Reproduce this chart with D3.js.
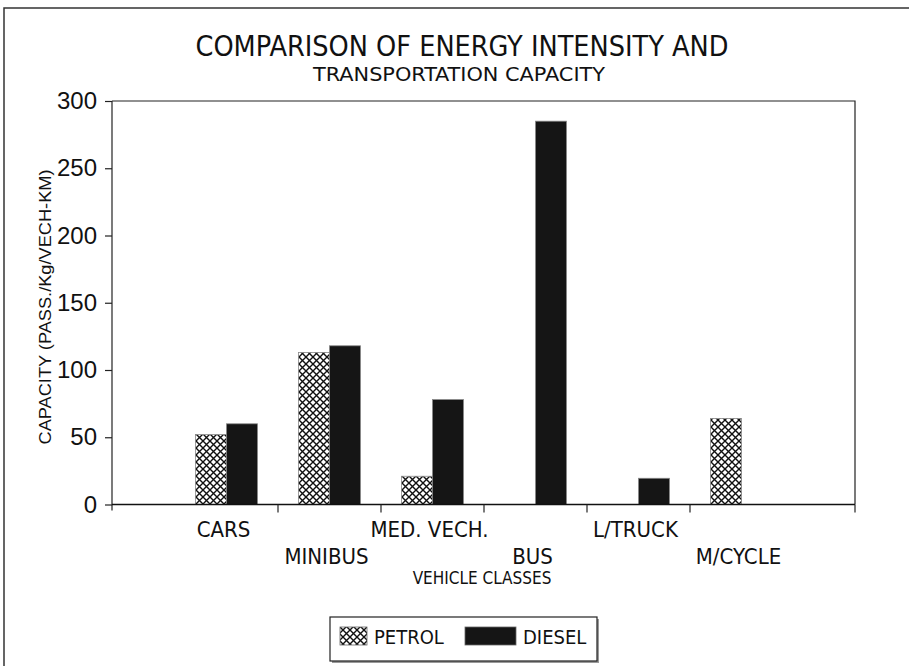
<!DOCTYPE html>
<html>
<head>
<meta charset="utf-8">
<script src="https://cdn.jsdelivr.net/npm/d3@7"></script>
<style>
  body { margin: 0; background: #fff; }
  text { fill: #111; }
</style>
</head>
<body>
<div class="graph"></div>
<script>
var categories = ["CARS", "MINIBUS", "MED. VECH.", "BUS", "L/TRUCK", "M/CYCLE"];
var series = ["PETROL", "DIESEL"];
var petrol = [52, 113, 21, 0, 0, 64];
var diesel = [60, 118, 78, 285, 19.5, 0];
var yTicks = [0, 50, 100, 150, 200, 250, 300];

var width = 909;
var height = 666;
var plotLeft = 112, plotRight = 855, plotTop = 101, plotBottom = 504.5;
var font = "'Liberation Sans Narrow', 'DejaVu Sans Condensed', sans-serif";

var svg = d3.select(".graph").append("svg")
  .attr("width", width)
  .attr("height", height);

// crosshatch for petrol
var pat = svg.append("defs").append("pattern")
  .attr("id", "hatch")
  .attr("patternUnits", "userSpaceOnUse")
  .attr("width", 7)
  .attr("height", 7);
pat.append("rect").attr("width", 7).attr("height", 7).attr("fill", "#fff");
pat.append("path")
  .attr("d", "M0,0L7,7M7,0L0,7")
  .attr("stroke", "#111")
  .attr("stroke-width", 1.4);

var fills = {"PETROL": "url(#hatch)", "DIESEL": "#151515"};

// outer frame
svg.append("path")
  .attr("d", "M4,666V8H909")
  .attr("fill", "none")
  .attr("stroke", "#333")
  .attr("stroke-width", 1.5);

var x0 = d3.scaleBand()
  .domain(categories)
  .range([175, 793]);

var x1 = d3.scaleBand()
  .domain(series)
  .range([x0.bandwidth() / 2 - 31, x0.bandwidth() / 2 + 31]);

var y = d3.scaleLinear()
  .domain([0, 300])
  .range([plotBottom, plotTop]);

var rows = categories.map(function (c, i) {
  return {cat: c, vals: [{s: "PETROL", v: petrol[i]}, {s: "DIESEL", v: diesel[i]}]};
});

// bars
var groups = svg.append("g").selectAll("g")
  .data(rows)
  .join("g")
  .attr("transform", d => "translate(" + x0(d.cat) + ",0)");

groups.selectAll("rect")
  .data(d => d.vals)
  .join("rect")
  .attr("x", d => x1(d.s))
  .attr("y", d => y(d.v))
  .attr("width", x1.bandwidth())
  .attr("height", d => y(0) - y(d.v))
  .attr("fill", d => fills[d.s])
  .attr("stroke", "#888")
  .attr("stroke-width", 0.8);

// plot box top/right
svg.append("path")
  .attr("d", "M" + plotLeft + "," + plotTop + "H" + plotRight + "V" + plotBottom)
  .attr("fill", "none")
  .attr("stroke", "#222")
  .attr("stroke-width", 1.2);

// y axis
var yAxisGroup = svg.append("g")
  .attr("transform", "translate(" + plotLeft + ",0)");
var yAxis = d3.axisLeft(y).tickValues(yTicks).tickSize(7).tickPadding(8);
yAxis(yAxisGroup);
yAxisGroup.select(".domain").remove();
yAxisGroup.selectAll("line").attr("stroke", "#222").attr("stroke-width", 1.2);
yAxisGroup.selectAll("text")
  .style("font-family", "'Liberation Sans', Arial, sans-serif")
  .style("font-size", "24px")
  .attr("fill", "#111");
svg.append("line")
  .attr("x1", plotLeft).attr("x2", plotLeft)
  .attr("y1", plotTop).attr("y2", plotBottom + 6)
  .attr("stroke", "#222").attr("stroke-width", 1.2);

// x axis
svg.append("line")
  .attr("x1", plotLeft).attr("x2", plotRight)
  .attr("y1", plotBottom).attr("y2", plotBottom)
  .attr("stroke", "#111").attr("stroke-width", 1.6);

var tickPos = categories.slice(1).map(c => x0(c)).concat([plotRight]);
svg.append("g").selectAll("line")
  .data(tickPos)
  .join("line")
  .attr("x1", d => d).attr("x2", d => d)
  .attr("y1", plotBottom).attr("y2", plotBottom + 8)
  .attr("stroke", "#222").attr("stroke-width", 1.2);

svg.append("g").selectAll("text")
  .data(categories)
  .join("text")
  .attr("x", d => x0(d) + x0.bandwidth() / 2 - 3)
  .attr("y", (d, i) => i % 2 === 0 ? 537 : 564)
  .attr("text-anchor", "middle")
  .style("font-family", font)
  .style("font-size", "22px")
  .text(d => d);

svg.append("text")
  .attr("x", 482).attr("y", 584)
  .attr("text-anchor", "middle")
  .style("font-family", font)
  .style("font-size", "17px")
  .text("VEHICLE CLASSES");

// y title
svg.append("text")
  .attr("transform", "translate(51,307) rotate(-90)")
  .attr("text-anchor", "middle")
  .attr("textLength", 275)
  .attr("lengthAdjust", "spacingAndGlyphs")
  .style("font-family", "'Liberation Sans', Arial, sans-serif")
  .style("font-size", "16px")
  .text("CAPACITY (PASS./Kg/VECH-KM)");

// titles
svg.append("text")
  .attr("x", 462).attr("y", 56)
  .attr("text-anchor", "middle")
  .attr("textLength", 533)
  .attr("lengthAdjust", "spacingAndGlyphs")
  .style("font-family", font)
  .style("font-size", "28px")
  .text("COMPARISON OF ENERGY INTENSITY AND");

svg.append("text")
  .attr("x", 459).attr("y", 81)
  .attr("text-anchor", "middle")
  .attr("textLength", 292)
  .attr("lengthAdjust", "spacingAndGlyphs")
  .style("font-family", font)
  .style("font-size", "19px")
  .text("TRANSPORTATION CAPACITY");

// legend
var legend = svg.append("g");
legend.append("rect")
  .attr("x", 332).attr("y", 619).attr("width", 267).attr("height", 44)
  .attr("fill", "#999");
legend.append("rect")
  .attr("x", 330).attr("y", 617).attr("width", 267).attr("height", 44)
  .attr("fill", "#fff").attr("stroke", "#222").attr("stroke-width", 1.2);

var legendX = {"PETROL": 340, "DIESEL": 465};
var legendW = {"PETROL": 27, "DIESEL": 51};
series.forEach(function (s) {
  legend.append("rect")
    .attr("x", legendX[s]).attr("y", 627)
    .attr("width", legendW[s]).attr("height", 18)
    .attr("fill", fills[s])
    .attr("stroke", "#666").attr("stroke-width", 0.8);
  legend.append("text")
    .attr("x", legendX[s] + legendW[s] + 7).attr("y", 644)
    .style("font-family", font)
    .style("font-size", "20px")
    .text(s);
});
</script>
</body>
</html>
